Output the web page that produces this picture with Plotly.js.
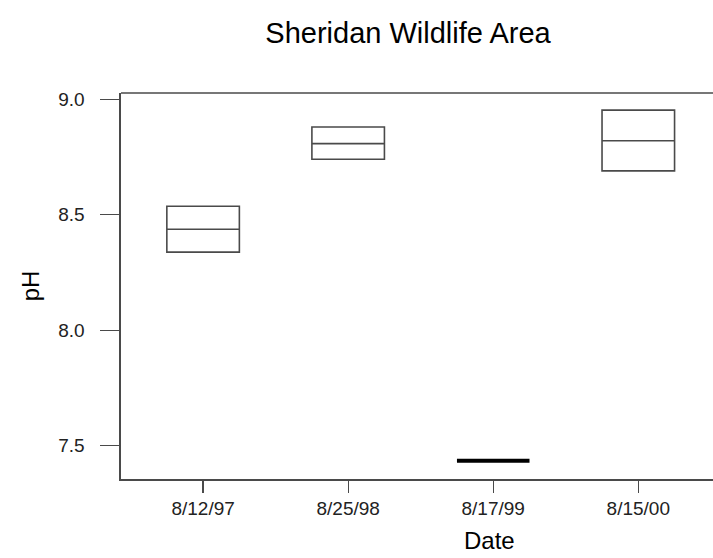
<!DOCTYPE html>
<html>
<head>
<meta charset="utf-8">
<script src="https://cdn.plot.ly/plotly-3.0.1.min.js"></script>
<style>html,body{margin:0;padding:0;background:#fff;}#chart{width:713px;height:558px;}</style>
</head>
<body>
<div id="chart"></div>
<script>
const dates = ["8/12/97", "8/25/98", "8/17/99", "8/15/00"];
const q1 = [8.338, 8.740, 7.435, 8.690];
const medians = [8.437, 8.808, 7.435, 8.820];
const q3 = [8.537, 8.880, 7.435, 8.953];
const yTicks = [7.5, 8.0, 8.5, 9.0];
const yTickText = ["7.5", "8.0", "8.5", "9.0"];

const FONT = "Liberation Sans, Arial, sans-serif";
const traces = dates.map((d, i) => {
  const single = q1[i] === q3[i];
  return {
    type: "box",
    name: d,
    x: [i],
    q1: [q1[i]],
    median: [medians[i]],
    q3: [q3[i]],
    lowerfence: [q1[i]],
    upperfence: [q3[i]],
    width: 0.5,
    whiskerwidth: 0,
    fillcolor: "rgba(0,0,0,0)",
    line: {color: single ? "#000000" : "#4a4a4a", width: single ? 4 : 1.6},
    boxpoints: false,
    hoverinfo: "y",
    showlegend: false
  };
});

const layout = {
  width: 713, height: 558,
  margin: {l: 121, r: 0, t: 93, b: 79},
  paper_bgcolor: "#ffffff",
  plot_bgcolor: "#ffffff",
  font: {family: FONT, color: "#000000"},
  title: {
    text: "Sheridan Wildlife Area",
    font: {family: FONT, size: 29, color: "#000000"},
    x: 408/713, xref: "container", xanchor: "center",
    y: 1 - 33/558, yref: "container", yanchor: "middle"
  },
  xaxis: {
    range: [-0.566, 3.515],
    tickvals: [0, 1, 2, 3],
    ticktext: dates,
    showgrid: false, zeroline: false,
    showline: true, linecolor: "#4a4a4a", linewidth: 1.6,
    ticks: "outside", ticklen: 12, tickcolor: "#4a4a4a", tickwidth: 1.3,
    tickfont: {family: FONT, size: 19, color: "#222222"},
    ticklabelstandoff: 0,
    fixedrange: true
  },
  yaxis: {
    range: [7.356, 9.027],
    tickvals: yTicks,
    ticktext: yTickText,
    showgrid: false, zeroline: false,
    showline: true, linecolor: "#4a4a4a", linewidth: 1.6,
    ticks: "outside", ticklen: 19, tickcolor: "#4a4a4a", tickwidth: 1.3,
    tickfont: {family: FONT, size: 19, color: "#222222"},
    ticklabelstandoff: 12,
    title: {text: "pH", font: {family: FONT, size: 24, color: "#000000"}, standoff: 12},
    fixedrange: true
  },
  shapes: [
    {type: "line", xref: "paper", yref: "paper", x0: 0, x1: 1.01, y0: 1, y1: 1,
     line: {color: "#4a4a4a", width: 1.6}}
  ],
  annotations: [
    {text: "Date", xref: "x", yref: "paper", x: 1.977, y: -0.118, yanchor: "top",
     xanchor: "center", showarrow: false, font: {family: FONT, size: 24, color: "#000000"}}
  ]
};

Plotly.newPlot("chart", traces, layout, {displayModeBar: false, staticPlot: true});
</script>
</body>
</html>
